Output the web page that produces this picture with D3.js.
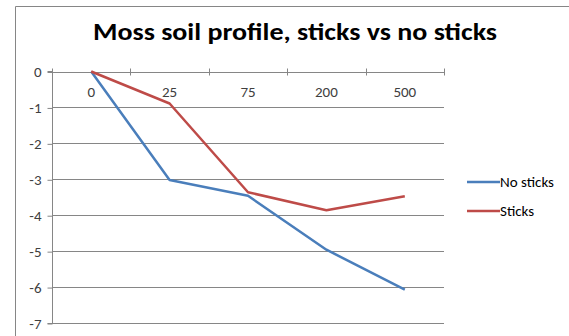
<!DOCTYPE html>
<html><head><meta charset="utf-8">
<script src="https://cdn.jsdelivr.net/npm/d3@7"></script>
<style>body{margin:0;background:#fff}svg{display:block}</style>
</head><body>
<svg id="c" width="569" height="336"></svg>
<script>
const categories = ["0", "25", "75", "200", "500"];
const noSticks = [0, -3.02, -3.46, -4.96, -6.07];
const sticks = [0, -0.89, -3.36, -3.86, -3.47];
const yTicks = [0, -1, -2, -3, -4, -5, -6, -7];
const seriesNames = ["No sticks", "Sticks"];
const colors = ["#4a7ebb", "#be4b48"];
const title = "Moss soil profile, sticks vs no sticks";

const svg = d3.select("#c");
const font = "Calibri, Carlito, 'Liberation Sans', Arial, sans-serif";
// chart border (cropped on right/bottom)
svg.append("line").attr("x1",15.5).attr("x2",15.5).attr("y1",6.5).attr("y2",336).attr("stroke","#868686");
svg.append("line").attr("x1",15.5).attr("x2",569).attr("y1",6.5).attr("y2",6.5).attr("stroke","#868686");

const x0 = 52, x1 = 444, yTop = 71.5, yBot = 323;
const xb = d3.scaleBand().domain(categories).range([x0, x1]);
const y = d3.scaleLinear().domain([0, -7]).range([yTop, yBot]);

// gridlines
svg.append("g").selectAll("line").data(yTicks.filter(d=>d!==0)).join("line")
  .attr("x1", x0).attr("x2", x1)
  .attr("y1", d=>Math.round(y(d))+0.5).attr("y2", d=>Math.round(y(d))+0.5)
  .attr("stroke","#868686").attr("stroke-width",1);

// y axis
const ya = d3.axisLeft(y).tickValues(yTicks).tickSize(5).tickPadding(7).tickFormat(d=>d===0?"0":"-"+Math.abs(d));
const gy = svg.append("g").attr("transform",`translate(${x0+0.5},0.5)`).call(ya);
gy.select(".domain").attr("stroke","#868686").attr("d",`M-5,${yTop-0.5}H0V${yBot}H-5`);
gy.selectAll(".tick line").attr("stroke","#868686");
gy.selectAll("text").attr("font-family",font).attr("font-size",15).attr("fill","#404040").attr("x",-11);

// x axis at y=0
const gx = svg.append("g");
gx.append("line").attr("x1",x0).attr("x2",x1).attr("y1",Math.round(y(0))+0.5).attr("y2",Math.round(y(0))+0.5).attr("stroke","#868686");
const tickXs = categories.map(c=>xb(c)).concat([x1]);
gx.selectAll("line.t").data(tickXs).join("line").attr("class","t")
  .attr("x1",d=>Math.round(d)+0.5).attr("x2",d=>Math.round(d)+0.5)
  .attr("y1",y(0)-3).attr("y2",y(0)+4).attr("stroke","#868686");
gx.selectAll("text").data(categories).join("text")
  .attr("x",d=>xb(d)+xb.bandwidth()/2).attr("y",y(0)+25)
  .attr("text-anchor","middle").attr("font-family",font).attr("font-size",15).attr("fill","#404040")
  .text(d=>d);

// lines
const line = d3.line().x((d,i)=>xb(categories[i])+xb.bandwidth()/2).y(d=>y(d));
[noSticks, sticks].forEach((s,i)=>{
  svg.append("path").attr("d",line(s)).attr("fill","none").attr("stroke",colors[i])
    .attr("stroke-width",2.5).attr("stroke-linejoin","round");
});

// legend
const lg = svg.append("g");
seriesNames.forEach((n,i)=>{
  const ly = 182 + i*29;
  lg.append("line").attr("x1",467).attr("x2",500).attr("y1",ly).attr("y2",ly).attr("stroke",colors[i]).attr("stroke-width",2.5);
  lg.append("text").attr("x",500).attr("y",ly+5).attr("font-family",font).attr("font-size",15).attr("fill","#000").text(n);
});

// title
svg.append("text").attr("x",295).attr("y",40).attr("text-anchor","middle")
  .attr("font-family",font).attr("font-weight","bold").attr("font-size",25)
  .attr("textLength",404).attr("lengthAdjust","spacingAndGlyphs").attr("fill","#000").text(title);
</script>
</body></html>
